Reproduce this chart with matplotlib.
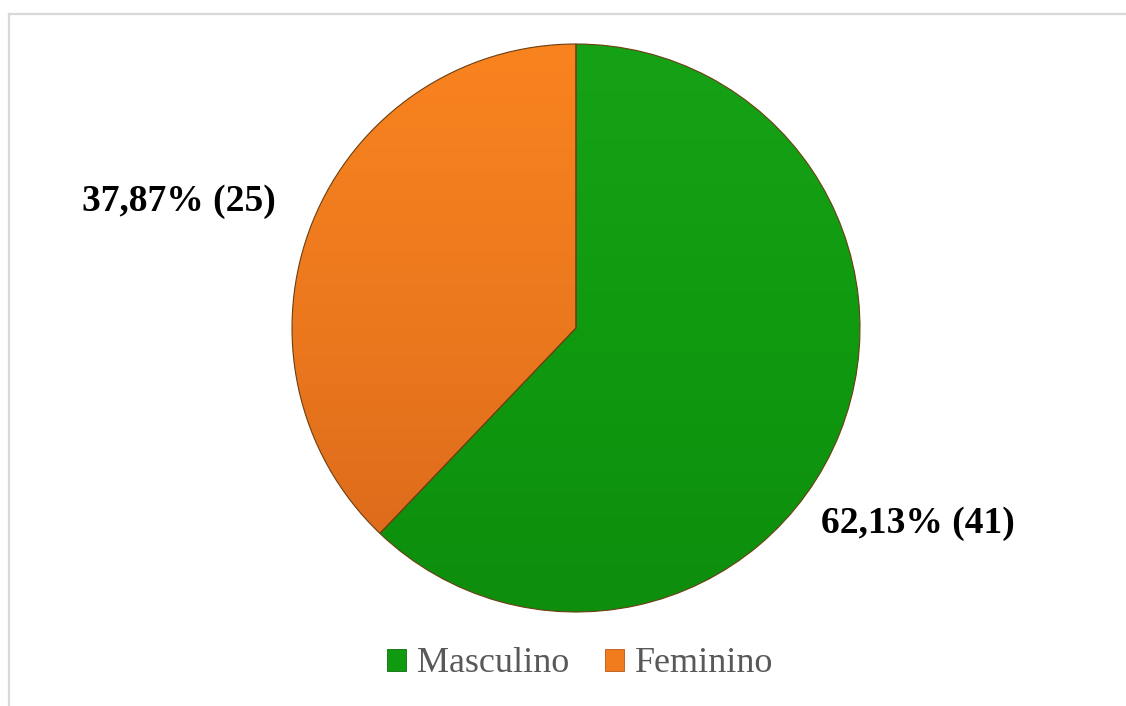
import numpy as np
import matplotlib
matplotlib.use("Agg")
import matplotlib.pyplot as plt
from matplotlib.lines import Line2D
from matplotlib.patches import Patch
from matplotlib.colors import LinearSegmentedColormap

categories = ["Masculino", "Feminino"]
percentages = [62.13, 37.87]
counts = [41, 25]

W, H = 1126, 706
fig = plt.figure(figsize=(W / 100, H / 100), dpi=100)
fig.patch.set_facecolor("white")

# chart-area frame (top and left edges only)
frame_c = "#d9d9d9"
fig.add_artist(Line2D([9 / W, 1], [1 - 14 / H, 1 - 14 / H], color=frame_c, lw=1.6,
                      transform=fig.transFigure))
fig.add_artist(Line2D([9 / W, 9 / W], [0, 1 - 14 / H], color=frame_c, lw=1.6,
                      transform=fig.transFigure))

cx, cy, R = 576, 328, 284
ax = fig.add_axes([(cx - R) / W, (H - cy - R) / H, 2 * R / W, 2 * R / H])
ax.set_xlim(-1, 1)
ax.set_ylim(-1, 1)
ax.set_aspect("equal")
ax.axis("off")

wedges, _ = ax.pie(percentages, startangle=90, counterclock=False, radius=1,
                   colors=["#109a10", "#f07c1e"],
                   wedgeprops=dict(edgecolor="#6b3f12", linewidth=0.8))

# vertical shading inside each wedge
grads = [
    LinearSegmentedColormap.from_list("g", ["#0d8e0d", "#109a10", "#16a216"]),
    LinearSegmentedColormap.from_list("o", ["#d8671a", "#ec781e", "#f9831f"]),
]
ramp = np.linspace(0, 1, 256).reshape(-1, 1)
for w, cmap in zip(wedges, grads):
    im = ax.imshow(ramp, extent=[-1, 1, -1, 1], origin="lower", cmap=cmap,
                   aspect="auto", zorder=w.get_zorder() + 0.1)
    im.set_clip_path(w)
    w.set_zorder(w.get_zorder() + 0.2)
    w.set_facecolor("none")

ax.set_xlim(-1, 1)
ax.set_ylim(-1, 1)

# value labels placed outside the wedges (angle in degrees, distance in radii)
label_pos = [(-29.7, 1.386), (162.3, 1.468)]
for pct, n, (ang, dist) in zip(percentages, counts, label_pos):
    a = np.deg2rad(ang)
    txt = f"{pct:.2f}".replace(".", ",") + f"% ({n})"
    ax.text(dist * np.cos(a), dist * np.sin(a), txt, ha="center", va="center",
            fontsize=27, fontweight="bold", family="Liberation Serif",
            color="black", clip_on=False)

handles = [Patch(facecolor="#109a10", edgecolor="#0b6e0b", lw=0.6),
           Patch(facecolor="#f07c1e", edgecolor="#b9571a", lw=0.6)]
leg = fig.legend(handles, categories, loc="center", bbox_to_anchor=(580 / W, 1 - 664 / H),
                 ncol=2, frameon=False, handlelength=0.52, handleheight=0.55,
                 handletextpad=0.3, columnspacing=1.0,
                 prop=dict(family="Liberation Serif", size=26))
for t in leg.get_texts():
    t.set_color("#595959")

fig.savefig("out.png", dpi=100, facecolor="white")
